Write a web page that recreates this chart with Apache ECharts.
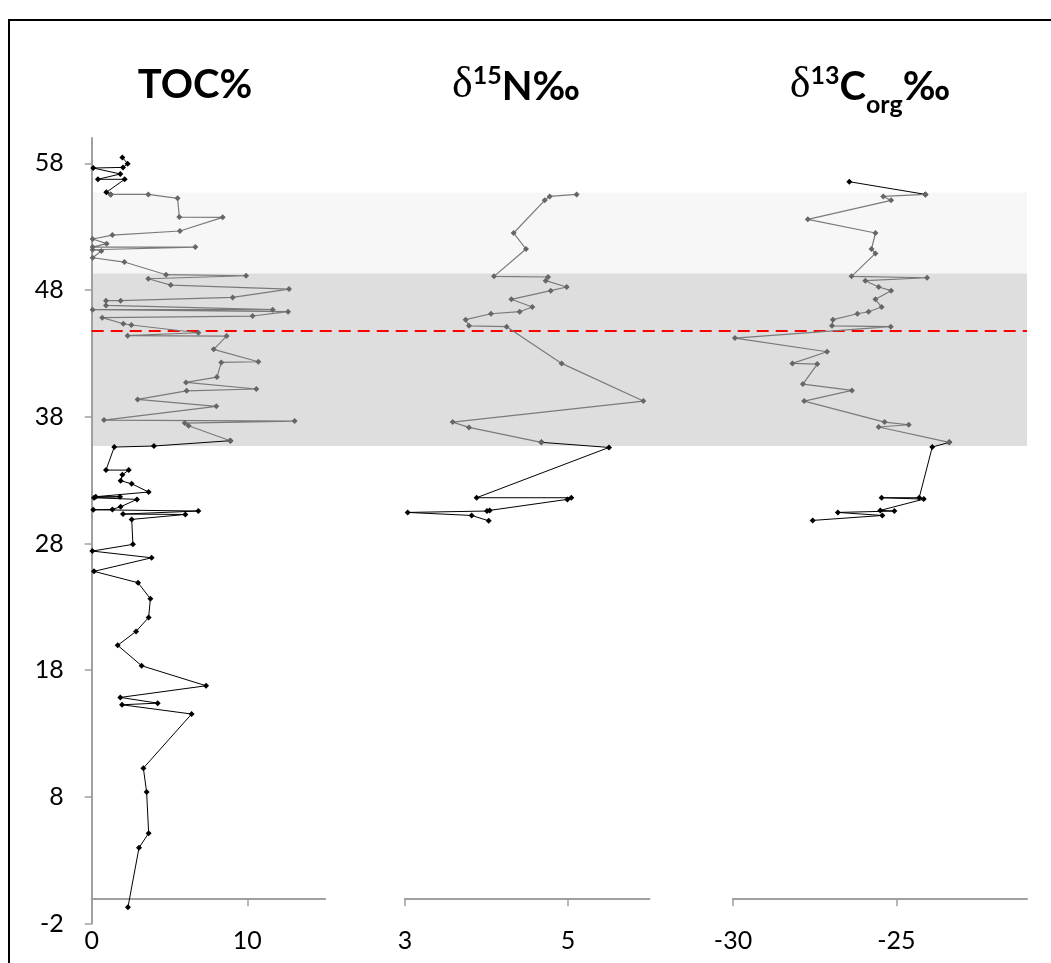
<!DOCTYPE html>
<html>
<head>
<meta charset="utf-8">
<script src="https://cdn.jsdelivr.net/npm/echarts@6/dist/echarts.min.js"></script>
<style>
  html, body { margin: 0; padding: 0; background: #ffffff; }
  #chart { width: 1051px; height: 963px; }
</style>
</head>
<body>
<div id="chart"></div>
<script>
// Depth scale (shared by all three panels) and tick labels
const depthTicks = [-2, 8, 18, 28, 38, 48, 58];
const tocTicks = [0, 10];
const n15Ticks = [3, 5];
const c13Ticks = [-30, -25];

// Total organic carbon (%) by depth
const tocDepth = [
  58.47, 57.97, 57.68, 57.63, 57.16, 56.74, 56.74, 55.71,
  55.55, 55.55, 55.24, 53.76, 53.74, 52.66, 52.34, 52.03, 51.66, 51.39, 51.39, 51.18,
  51.08, 50.55, 50.21, 49.21, 49.13, 48.89, 48.39, 48.08, 47.42, 47.16, 47.16, 46.79,
  46.45, 46.45, 46.29, 45.95, 45.82, 45.34, 45.24, 44.63, 44.40, 44.37, 43.32, 42.34,
  42.29, 41.13, 40.71, 40.19, 40.05, 39.37, 38.82, 37.74, 37.66, 37.50, 37.29, 36.11,
  35.69, 35.61, 33.79, 33.79, 33.42, 32.95, 32.71, 32.06, 31.69, 31.69, 31.61, 31.48,
  30.90, 30.69, 30.66, 30.56, 30.32, 30.29, 29.90, 27.93, 27.40, 26.87, 25.80, 24.90,
  23.64, 22.16, 21.06, 19.96, 18.35, 16.77, 15.85, 15.40, 15.27, 14.54, 10.27, 8.38,
  5.14, 3.98, -0.70
];
const tocValue = [
  1.97, 2.31, 2.01, 0.10, 1.84, 0.40, 2.12, 0.94,
  1.22, 3.64, 5.52, 5.63, 8.42, 5.67, 1.33, 0.06, 0.96, 0.06, 6.66, 0.06,
  0.62, 0.06, 2.10, 4.78, 9.92, 3.64, 5.08, 12.68, 9.06, 1.86, 0.92, 0.92,
  11.63, 0.06, 12.62, 10.34, 0.68, 2.03, 2.55, 6.85, 2.31, 8.67, 7.84, 10.71,
  8.33, 8.05, 6.06, 10.58, 6.10, 2.95, 8.01, 0.79, 13.04, 5.98, 6.23, 8.91,
  4.00, 1.45, 0.92, 2.38, 1.97, 1.86, 2.57, 3.66, 0.26, 1.82, 0.15, 2.91,
  1.86, 1.33, 0.10, 6.85, 2.01, 6.02, 2.57, 2.65, 0.04, 3.85, 0.15, 2.98,
  3.77, 3.66, 2.85, 1.67, 3.21, 7.35, 1.84, 4.24, 1.95, 6.42, 3.32, 3.53,
  3.66, 3.04, 2.33
];

// Nitrogen isotopes (δ15N ‰) by depth
const n15Depth = [
  55.55, 55.39, 55.08, 52.50, 51.24, 49.08, 49.03, 48.74, 48.24, 47.95, 47.27,
  46.66, 46.29, 46.13, 45.66, 45.18, 45.11, 42.21, 39.24, 37.58, 37.16, 35.98,
  35.58, 31.61, 31.61, 31.48, 30.61, 30.56, 30.45, 30.21, 29.79
];
const n15Value = [
  5.106, 4.775, 4.714, 4.333, 4.485, 4.092, 4.755, 4.726, 4.984, 4.788, 4.305,
  4.562, 4.407, 4.055, 3.744, 3.785, 4.247, 4.922, 5.924, 3.585, 3.785, 4.673,
  5.503, 3.879, 5.041, 4.992, 4.039, 4.006, 3.033, 3.818, 4.027
];

// Organic carbon isotopes (δ13Corg ‰) by depth
const c13Depth = [
  56.55, 55.55, 55.39, 55.08, 53.58, 52.50, 51.24, 50.89, 49.08, 48.97, 48.74,
  48.24, 47.95, 47.27, 46.66, 46.29, 46.13, 45.66, 45.18, 45.11, 44.21, 43.13,
  42.21, 42.16, 40.58, 40.08, 39.24, 37.58, 37.37, 37.19, 35.98, 35.61, 31.61,
  31.61, 31.50, 30.61, 30.56, 30.45, 30.21, 29.82
];
const c13Value = [
  -26.44, -24.11, -25.40, -25.16, -27.71, -25.64, -25.76, -25.64, -26.37, -24.06, -25.95,
  -25.54, -25.16, -25.64, -25.45, -25.85, -26.19, -26.94, -26.97, -25.17, -29.94, -27.12,
  -28.18, -27.42, -27.86, -26.36, -27.82, -25.36, -24.62, -25.54, -23.38, -23.90, -24.30,
  -25.45, -24.16, -25.49, -25.06, -26.79, -25.43, -27.56
];

// Shaded intervals, boundary line and the depth range drawn in grey
const lightBand = [49.3, 55.7];
const darkBand = [35.7, 49.3];
const boundaryDepth = 44.76;
const greyInterval = [35.9, 55.6];

const FONT = 'Lato, "Open Sans", "Noto Sans", sans-serif';
const AXIS_COLOR = '#a0a0a0';
const TOP = 138;
const BOTTOM = 963 - 923.6;

function splitProfile(depths, values) {
  const pts = depths.map((d, i) => [values[i], d]);
  const inside = p => p[1] >= greyInterval[0] && p[1] <= greyInterval[1];
  const first = pts.findIndex(inside);
  let last = -1;
  pts.forEach((p, i) => { if (inside(p)) last = i; });
  return {
    upper: pts.slice(0, first + 1),
    middle: pts.slice(first, last + 1),
    lower: pts.slice(last)
  };
}

function profileSeries(depths, values, axisIndex) {
  const parts = splitProfile(depths, values);
  const base = {
    type: 'line',
    xAxisIndex: axisIndex,
    yAxisIndex: axisIndex,
    symbol: 'diamond',
    symbolSize: 6,
    animation: false,
    silent: true
  };
  const black = {
    lineStyle: { color: '#000000', width: 1 },
    itemStyle: { color: '#000000' },
    z: 4
  };
  const out = [];
  if (parts.upper.length > 1) out.push(Object.assign({}, base, black, { data: parts.upper }));
  out.push(Object.assign({}, base, black, { data: parts.lower }));
  out.push(Object.assign({}, base, {
    data: parts.middle,
    lineStyle: { color: '#7a7a7a', width: 1.2 },
    itemStyle: { color: '#666666' },
    z: 5
  }));
  return out;
}

function valueXAxis(grid, min, max, ticks) {
  return {
    type: 'value', gridIndex: grid, min: min, max: max,
    axisLine: { show: true, onZero: true, lineStyle: { color: AXIS_COLOR, width: 2 } },
    axisTick: { show: true, customValues: ticks, length: 8, lineStyle: { color: AXIS_COLOR, width: 1.5 } },
    axisLabel: { customValues: ticks, margin: 5, fontSize: 25, color: '#000000', fontFamily: FONT },
    splitLine: { show: false },
    z: 3
  };
}

function hiddenDepthAxis(grid) {
  return { type: 'value', gridIndex: grid, min: -2, max: 60, interval: 10, show: false };
}

function plotGrid(left, width, right) {
  const g = { top: TOP, bottom: BOTTOM, left: left, outerBoundsMode: 'none', containLabel: false };
  if (width != null) g.width = width; else g.right = right;
  return g;
}

const option = {
  backgroundColor: '#ffffff',
  animation: false,
  grid: [
    plotGrid(91.7, 233.4),
    plotGrid(405, 244.5),
    plotGrid(733, 294),
    plotGrid(91.7, null, 24)
  ],
  xAxis: [
    valueXAxis(0, 0, 15, tocTicks),
    valueXAxis(1, 3, 6, n15Ticks),
    valueXAxis(2, -30, -21, c13Ticks),
    { type: 'value', gridIndex: 3, min: 0, max: 1, show: false }
  ],
  yAxis: [
    {
      type: 'value', gridIndex: 0, min: -2, max: 60, interval: 10,
      axisLine: { show: true, onZero: true, lineStyle: { color: AXIS_COLOR, width: 2 } },
      axisTick: { show: true, customValues: depthTicks, length: 7, lineStyle: { color: AXIS_COLOR, width: 1.5 } },
      axisLabel: { customValues: depthTicks, margin: 28, fontSize: 25, color: '#000000', fontFamily: FONT },
      splitLine: { show: false },
      z: 3
    },
    hiddenDepthAxis(1),
    hiddenDepthAxis(2),
    hiddenDepthAxis(3)
  ],
  graphic: [
    {
      type: 'rect', silent: true, z: 100,
      shape: { x: 9, y: 20, width: 1100, height: 1000 },
      style: { fill: 'none', stroke: '#000000', lineWidth: 2 }
    },
    {
      type: 'text', x: 195, y: 85, silent: true,
      style: {
        text: '{t|TOC%}', align: 'center', verticalAlign: 'middle',
        rich: { t: { fontFamily: FONT, fontWeight: 'bold', fontSize: 40, lineHeight: 44, fill: '#000' } }
      }
    },
    {
      type: 'text', x: 516, y: 85, silent: true,
      style: {
        text: '{d|δ}{s|15}{t|N‰}', align: 'center', verticalAlign: 'middle',
        rich: {
          d: { fontFamily: '"Liberation Serif", "DejaVu Serif", serif', fontSize: 44, lineHeight: 44, fill: '#000', verticalAlign: 'bottom' },
          s: { fontFamily: FONT, fontWeight: 'bold', fontSize: 25, lineHeight: 24, fill: '#000', verticalAlign: 'top' },
          t: { fontFamily: FONT, fontWeight: 'bold', fontSize: 40, lineHeight: 44, fill: '#000', verticalAlign: 'bottom' }
        }
      }
    },
    {
      type: 'text', x: 870, y: 85, silent: true,
      style: {
        text: '{d|δ}{s|13}{t|C}{b|org}{t|‰}', align: 'center', verticalAlign: 'middle',
        rich: {
          d: { fontFamily: '"Liberation Serif", "DejaVu Serif", serif', fontSize: 44, lineHeight: 44, fill: '#000', verticalAlign: 'bottom' },
          s: { fontFamily: FONT, fontWeight: 'bold', fontSize: 25, lineHeight: 24, fill: '#000', verticalAlign: 'top' },
          t: { fontFamily: FONT, fontWeight: 'bold', fontSize: 40, lineHeight: 44, fill: '#000', verticalAlign: 'bottom' },
          b: { fontFamily: FONT, fontWeight: 'bold', fontSize: 25, lineHeight: 24, fill: '#000', verticalAlign: 'bottom', padding: [0, 0, -10, 0] }
        }
      }
    }
  ],
  series: [
    // Shaded intervals spanning all three panels
    {
      type: 'line', xAxisIndex: 3, yAxisIndex: 3, z: 1, silent: true,
      data: [[0.5, -100]], symbol: 'none', lineStyle: { opacity: 0 },
      markArea: {
        silent: true,
        data: [
          [{ xAxis: 0, yAxis: lightBand[0], itemStyle: { color: '#f7f7f7' } }, { xAxis: 1, yAxis: lightBand[1] }],
          [{ xAxis: 0, yAxis: darkBand[0], itemStyle: { color: '#dedede' } }, { xAxis: 1, yAxis: darkBand[1] }]
        ]
      }
    },
    ...profileSeries(tocDepth, tocValue, 0),
    ...profileSeries(n15Depth, n15Value, 1),
    ...profileSeries(c13Depth, c13Value, 2),
    // Boundary marker across all panels
    {
      type: 'line', xAxisIndex: 3, yAxisIndex: 3, z: 10, silent: true,
      data: [[0.5, -100]], symbol: 'none', lineStyle: { opacity: 0 },
      markLine: {
        silent: true, symbol: 'none', label: { show: false },
        lineStyle: { color: '#ff0000', width: 2, type: [12, 7] },
        data: [{ yAxis: boundaryDepth }]
      }
    }
  ]
};

const chart = echarts.init(document.getElementById('chart'));
chart.setOption(option);
</script>
</body>
</html>
